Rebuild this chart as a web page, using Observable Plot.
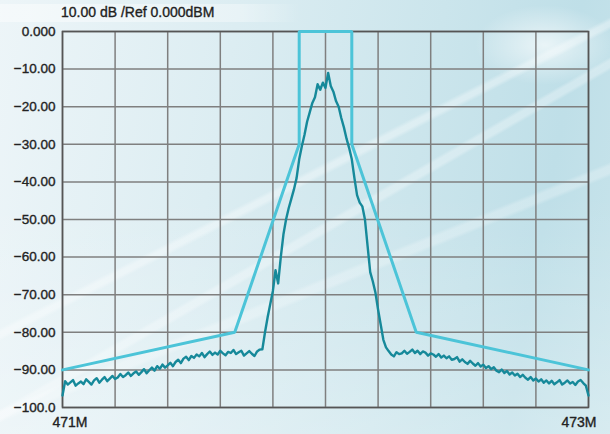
<!DOCTYPE html>
<html>
<head>
<meta charset="utf-8">
<script src="https://cdn.jsdelivr.net/npm/d3@7"></script>
<script src="https://cdn.jsdelivr.net/npm/@observablehq/plot@0.6"></script>
<style>
  html, body { margin: 0; padding: 0; }
  body { width: 610px; height: 434px; overflow: hidden; position: relative;
    font-family: "Liberation Sans", Arial, sans-serif;
    background:
      linear-gradient(153deg, rgba(255,255,255,0) 44%, rgba(255,255,255,0.35) 44.6%, rgba(255,255,255,0.35) 45.2%, rgba(255,255,255,0) 45.8%),
      linear-gradient(150deg, rgba(255,255,255,0) 52%, rgba(255,255,255,0.3) 52.5%, rgba(255,255,255,0.3) 53.3%, rgba(255,255,255,0) 53.8%),
      linear-gradient(158deg, rgba(255,255,255,0) 60%, rgba(255,255,255,0.25) 60.6%, rgba(255,255,255,0.25) 61.6%, rgba(255,255,255,0) 62.2%),
      radial-gradient(ellipse 70px 40px at 545px 45px, rgba(255,255,255,0.65), rgba(255,255,255,0) 100%),
      linear-gradient(90deg, rgba(255,255,255,0.45) 0px, rgba(255,255,255,0.35) 240px, rgba(255,255,255,0) 300px) 0 4px / 300px 18px no-repeat,
      linear-gradient(180deg, rgba(255,255,255,0) 45%, rgba(255,255,255,0.28) 100%),
      linear-gradient(100deg, #edf5f8 0%, #dcedf2 35%, #cbe5ec 65%, #bfdfe8 85%, #c8e4eb 100%);
  }
  #title { position: absolute; left: 61px; top: 4px; font-size: 14px; color: #222; white-space: nowrap; -webkit-text-stroke: 0.35px #222; }
  #chart { position: absolute; left: 0; top: 0; }
  #chart svg text { stroke: #222; stroke-width: 0.35px; }
</style>
</head>
<body>
<div id="chart"></div>
<div id="title"></div>
<script>
const titleText = "10.00 dB /Ref 0.000dBM";
const xDomain = [471, 473];
const yDomain = [-100, 0];
const xGrid = [471, 471.2, 471.4, 471.6, 471.8, 472, 472.2, 472.4, 472.6, 472.8, 473];
const xTicks = [471, 473];
const xTickLabels = ["471M", "473M"];
const yTicks = [0, -10, -20, -30, -40, -50, -60, -70, -80, -90, -100];
const yTickLabels = ["0.000", "\u221210.00", "\u221220.00", "\u221230.00", "\u221240.00", "\u221250.00", "\u221260.00", "\u221270.00", "\u221280.00", "\u221290.00", "\u2212100.0"];

// limit mask
const maskFreq = [471, 471.655, 471.9, 471.9, 472.1, 472.1, 472.345, 473];
const maskLevel = [-90, -80, -30, 0, 0, -30, -80, -90];

// measured trace: 201 sweep points from 471 MHz to 473 MHz
const traceStart = 471, traceStop = 473;
const traceLevel = [
  -96.8, -93.0, -93.9, -93.3, -92.7, -94.2, -93.6, -93.1, -93.8, -92.5,
  -93.2, -93.9, -92.8, -92.2, -93.4, -92.6, -91.9, -93.0, -92.3, -91.6,
  -92.4, -92.0, -91.1, -91.9, -91.4, -90.7, -91.6, -90.9, -90.4, -91.3,
  -90.6, -89.8, -90.9, -90.1, -89.4, -90.2, -89.0, -89.7, -88.6, -89.4,
  -88.8, -88.1, -89.0, -87.9, -87.3, -88.2, -87.0, -86.5, -87.4, -86.3,
  -86.8, -85.9, -86.4, -85.5, -86.6, -85.8, -85.1, -86.0, -85.4, -85.9,
  -84.9, -85.6, -86.1, -85.2, -85.5, -84.7, -85.8, -85.3, -84.9, -86.2,
  -85.6, -85.0, -85.7, -86.3, -85.1, -84.6, -84.5, -80.0, -76.0, -72.5,
  -69.0, -63.5, -67.0, -60.0, -54.0, -50.0, -47.0, -44.5, -42.0, -39.0,
  -34.0, -30.5, -27.5, -24.0, -21.5, -19.0, -17.5, -14.0, -15.5, -13.6,
  -15.0, -11.0, -14.5, -16.0, -18.5, -20.0, -23.0, -25.5, -28.5, -31.0,
  -34.0, -39.0, -43.5, -45.5, -46.5, -50.0, -57.0, -64.0, -66.5, -69.5,
  -74.0, -78.0, -82.0, -84.0, -85.0, -85.9, -86.4, -85.3, -85.8, -85.6,
  -84.9, -85.7, -85.2, -84.6, -85.5, -84.9, -85.8, -85.1, -85.4, -86.2,
  -85.6, -85.9, -86.5, -85.8, -86.7, -86.2, -86.9, -86.4, -87.3, -87.1,
  -86.6, -87.8, -87.2, -87.9, -88.4, -87.6, -88.3, -88.9, -88.2, -89.1,
  -88.6, -89.5, -89.0, -89.8, -89.3, -90.2, -90.6, -89.9, -90.8, -90.3,
  -91.2, -90.7, -91.5, -91.0, -91.9, -91.3, -92.1, -92.6, -91.9, -92.8,
  -92.3, -93.1, -92.5, -93.4, -92.8, -93.6, -92.9, -93.8, -93.3, -92.7,
  -93.9, -93.4, -92.8, -93.6, -93.2, -94.0, -93.1, -92.7, -93.5, -94.2,
  -96.8
];

const mask = maskFreq.map((f, i) => ({f, v: maskLevel[i]}));
const step = (traceStop - traceStart) / (traceLevel.length - 1);
const trace = traceLevel.map((v, i) => ({f: traceStart + i * step, v}));

document.getElementById("title").textContent = titleText;

const fontFamily = '"Liberation Sans", Arial, sans-serif';
const chart = Plot.plot({
  width: 610,
  height: 434,
  marginLeft: 62,
  marginRight: 22,
  marginTop: 31,
  marginBottom: 27,
  style: {background: "transparent", fontFamily, color: "#222", overflow: "visible"},
  x: {domain: xDomain},
  y: {domain: yDomain},
  marks: [
    Plot.gridX(xGrid, {stroke: "#7f7f7f", strokeOpacity: 1, strokeWidth: 1.5}),
    Plot.gridY(yTicks, {stroke: "#7f7f7f", strokeOpacity: 1, strokeWidth: 1.5}),
    Plot.frame({stroke: "#555", strokeWidth: 1.6}),
    Plot.axisY({ticks: yTicks, tickFormat: d => yTickLabels[yTicks.indexOf(d)], tickSize: 0, tickPadding: 7, fontSize: 13.5, label: null}),
    Plot.axisX({ticks: [xTicks[0]], tickFormat: () => xTickLabels[0], tickSize: 0, tickPadding: 10, textAnchor: "start", dx: -10, fontSize: 14, label: null}),
    Plot.axisX({ticks: [xTicks[1]], tickFormat: () => xTickLabels[1], tickSize: 0, tickPadding: 10, textAnchor: "end", dx: 8, fontSize: 14, label: null}),
    Plot.line(mask, {x: "f", y: "v", stroke: "#4cc4d8", strokeWidth: 3, strokeLinejoin: "miter"}),
    Plot.line(trace, {x: "f", y: "v", stroke: "#16899a", strokeWidth: 2.4})
  ]
});
document.getElementById("chart").appendChild(chart);
</script>
</body>
</html>
